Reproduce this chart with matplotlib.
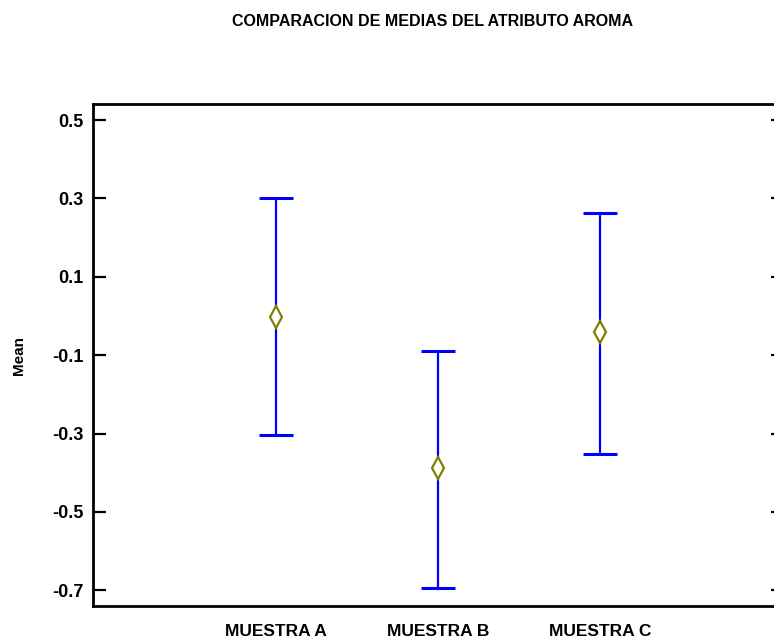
import matplotlib
matplotlib.use("Agg")
import matplotlib.pyplot as plt
from matplotlib import font_manager

# Mean and interval bounds of the aroma score for each sample
samples = ["MUESTRA A", "MUESTRA B", "MUESTRA C"]
means = [-0.002, -0.389, -0.040]
upper = [0.302, -0.088, 0.262]
lower = [-0.304, -0.693, -0.352]
yticks = [0.5, 0.3, 0.1, -0.1, -0.3, -0.5, -0.7]

available = {f.name for f in font_manager.fontManager.ttflist}
narrow = "Liberation Sans Narrow" if "Liberation Sans Narrow" in available else "Liberation Sans"
plt.rcParams["font.family"] = [narrow, "DejaVu Sans"]

fig = plt.figure(figsize=(7.74, 6.43), dpi=100)
ax = fig.add_axes([0.1208, 0.0575, 0.892, 0.7807])

xs = [1, 2, 3]
err_lo = [m - lo for m, lo in zip(means, lower)]
err_hi = [hi - m for m, hi in zip(means, upper)]
ax.errorbar(xs, means, yerr=[err_lo, err_hi], fmt="none", ecolor="#0000FF",
            elinewidth=1.6, capsize=12, capthick=2.2, zorder=2)
ax.plot(xs, means, linestyle="none", marker="d", markersize=11,
        markerfacecolor="white", markeredgecolor="#808000",
        markeredgewidth=1.6, zorder=3)

ax.set_xlim(-0.123, 4.132)
ax.set_ylim(-0.740, 0.541)
ax.set_xticks(xs)
ax.set_xticklabels(samples, fontsize=12.5, fontweight="bold")
ax.set_yticks(yticks)
ax.set_yticklabels([f"{v:.1f}" for v in yticks], fontsize=13, fontweight="bold")

ax.tick_params(axis="y", direction="in", length=9.5, width=1.6, right=True,
               pad=7)
ax.tick_params(axis="x", length=0, pad=13)
for sp in ax.spines.values():
    sp.set_linewidth(2.0)

ax.set_ylabel("Mean", fontsize=11, fontweight="bold",
              family=["Liberation Sans", "DejaVu Sans"], labelpad=19)

fig.text(432 / 774, 1 - 21 / 643, "COMPARACION DE MEDIAS DEL ATRIBUTO AROMA",
         ha="center", va="center", fontsize=11.5, fontweight="bold")

fig.savefig("out.png", dpi=100)
